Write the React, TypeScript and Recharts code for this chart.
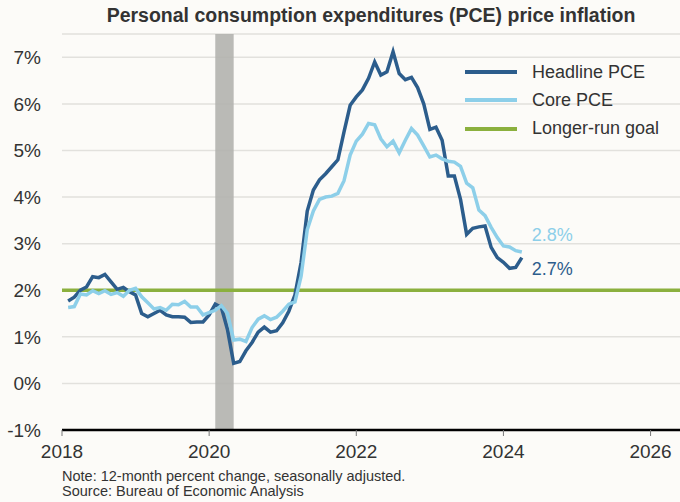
import React from 'react';
import {
  LineChart, Line, XAxis, YAxis, CartesianGrid, ReferenceLine, ReferenceArea, LabelList,
} from 'recharts';

// 12-month percent change, monthly from Jan 2018 to Mar 2024
const headlinePce = [
  1.77, 1.85, 2.0, 2.07, 2.29, 2.27, 2.34, 2.18, 2.02, 2.06, 1.97, 1.9,
  1.5, 1.43, 1.5, 1.57, 1.47, 1.43, 1.43, 1.42, 1.31, 1.32, 1.32, 1.47,
  1.7, 1.63, 1.15, 0.43, 0.47, 0.7, 0.88, 1.1, 1.21, 1.1, 1.13, 1.3,
  1.55, 1.9, 2.6, 3.7, 4.15, 4.37, 4.5, 4.65, 4.8, 5.4, 5.97, 6.15,
  6.3, 6.55, 6.9, 6.62, 6.69, 7.12, 6.65, 6.52, 6.57, 6.35, 6.0, 5.45,
  5.5, 5.22, 4.45, 4.45, 3.95, 3.2, 3.33, 3.36, 3.38, 2.92, 2.7, 2.6,
  2.47, 2.49, 2.7,
];

const corePce = [
  1.63, 1.65, 1.92, 1.9, 1.99, 1.93, 1.99, 1.91, 1.95, 1.87, 2.0, 2.04,
  1.86, 1.73, 1.6, 1.63, 1.57, 1.7, 1.69, 1.76, 1.64, 1.64, 1.47, 1.52,
  1.57, 1.67, 1.5, 0.93, 0.95, 0.9, 1.2, 1.38, 1.45, 1.37, 1.42, 1.55,
  1.7, 1.75, 2.3, 3.3, 3.7, 3.95, 4.0, 4.02, 4.08, 4.35, 4.9, 5.2,
  5.35, 5.58, 5.55, 5.25, 5.08, 5.2, 4.95, 5.22, 5.47, 5.33, 5.1, 4.86,
  4.9, 4.82, 4.77, 4.75, 4.66, 4.3, 4.2, 3.72, 3.6, 3.35, 3.13, 2.95,
  2.93, 2.85, 2.82,
];

const startYear = 2018;
const longerRunGoal = 2;
const recession = [2020 + 1 / 12, 2020 + 4 / 12]; // Feb-Apr 2020
const xTicks = [2018, 2020, 2022, 2024, 2026];
const yTicks = [-1, 0, 1, 2, 3, 4, 5, 6, 7];

const HEADLINE = '#2c5d8c';
const CORE = '#8dcfe9';
const GOAL = '#8bb03e';
const TEXT = '#333333';
const FONT = '"Liberation Sans", Arial, sans-serif';

const data = headlinePce.map((h, i) => ({
  date: startYear + (i + 1) / 12,
  headline: h,
  core: corePce[i],
}));

const legendItems = [
  { label: 'Headline PCE', color: HEADLINE },
  { label: 'Core PCE', color: CORE },
  { label: 'Longer-run goal', color: GOAL },
];

const ChartLegend = () => (
  <div style={{ position: 'absolute', top: 58, left: 465, fontFamily: FONT }}>
    {legendItems.map((item) => (
      <div key={item.label} style={{ display: 'flex', alignItems: 'center', height: 28.3 }}>
        <div style={{ width: 52, height: 4, background: item.color, marginRight: 15 }} />
        <span style={{ fontSize: 18, color: TEXT }}>{item.label}</span>
      </div>
    ))}
  </div>
);

const endLabel = (color: string, dy: number) => (props: any) => {
  const { x, y, index, value } = props;
  if (index !== data.length - 1) return null;
  return (
    <text x={x + 10} y={y + dy} fill={color} fontSize={18} fontFamily={FONT} dominantBaseline="central">
      {`${value.toFixed(1)}%`}
    </text>
  );
};

export default function App() {
  return (
    <div style={{ position: 'fixed', left: 0, top: 0, width: 680, height: 502, background: '#fcfbf8', fontFamily: FONT }}>
      <div style={{ position: 'absolute', left: 62, width: 618, top: 4, textAlign: 'center', fontSize: 19.5, fontWeight: 'bold', color: TEXT }}>
        Personal consumption expenditures (PCE) price inflation
      </div>
      <LineChart width={680} height={502} data={data} margin={{ top: 34, right: 0, left: 0, bottom: 42 }}>
        <CartesianGrid horizontal vertical={false} stroke="#e2e1dd" strokeWidth={1.5} />
        <ReferenceArea x1={recession[0]} x2={recession[1]} y1={-1} y2={7.5} fill="#b3b2ae" fillOpacity={0.9} stroke="none" />
        <XAxis
          dataKey="date"
          type="number"
          domain={[2018, 2026.4]}
          ticks={xTicks}
          allowDataOverflow
          height={30}
          axisLine={{ stroke: '#000', strokeWidth: 2.5 }}
          tickLine={{ stroke: '#777' }}
          tickSize={6}
          tickMargin={9}
          tick={{ fill: TEXT, fontSize: 19, fontFamily: FONT }}
        />
        <YAxis
          type="number"
          domain={[-1, 7.5]}
          ticks={yTicks}
          allowDataOverflow
          width={62}
          axisLine={false}
          tickLine={false}
          tickSize={0}
          tickMargin={21}
          tickFormatter={(v) => `${v}%`}
          tick={{ fill: TEXT, fontSize: 19, fontFamily: FONT }}
        />
        <ReferenceLine y={longerRunGoal} stroke={GOAL} strokeWidth={3.5} />
        <Line type="linear" dataKey="headline" stroke={HEADLINE} strokeWidth={3.5} dot={false} isAnimationActive={false}>
          <LabelList dataKey="headline" content={endLabel(HEADLINE, 11)} />
        </Line>
        <Line type="linear" dataKey="core" stroke={CORE} strokeWidth={3.5} dot={false} isAnimationActive={false}>
          <LabelList dataKey="core" content={endLabel(CORE, -17)} />
        </Line>
      </LineChart>
      <ChartLegend />
      <div style={{ position: 'absolute', left: 62, top: 469, fontSize: 14.5, lineHeight: '14.5px', color: TEXT }}>
        <div>Note: 12-month percent change, seasonally adjusted.</div>
        <div>Source: Bureau of Economic Analysis</div>
      </div>
    </div>
  );
}
